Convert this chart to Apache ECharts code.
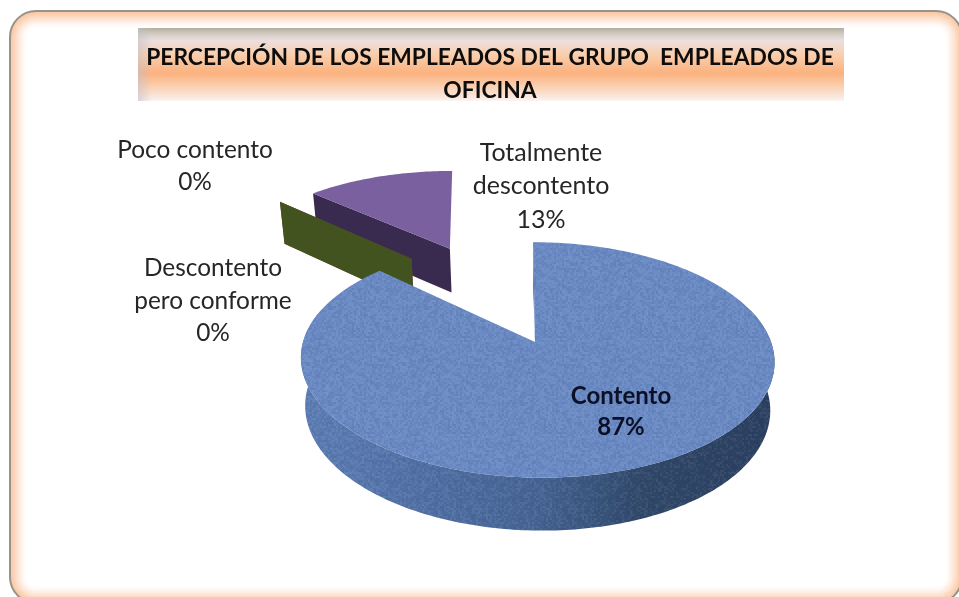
<!DOCTYPE html>
<html><head><meta charset="utf-8">
<style>html,body{margin:0;padding:0;background:#fff}#c{width:959px;height:597px}</style>
<script src="https://cdn.jsdelivr.net/npm/echarts@6/dist/echarts.min.js"></script>
</head><body><div id="c"></div>
<script>
// ---- data ----
const categories = ['Contento', 'Descontento\npero conforme', 'Poco contento', 'Totalmente\ndescontento'];
const values = [87, 0, 0, 13];
const titleText = 'PERCEPCIÓN DE LOS EMPLEADOS DEL GRUPO  EMPLEADOS DE\nOFICINA';
// ---- style ----
const topColors = ['#6a8ac4', '#43531f', '#7f3a36', '#7b60a0'];
const wallColors = ['#2c4164', '#43531f', '#7f3a36', '#392a50'];
const explodeSize = [0, 1.006, 1.006, 1.02];
const explodeAngle = [0, -36, -36, -25];
const apexNudge = [-2, 1, 1, 5];
const labelX = [621, 213, 195, 541];
const labelY = [412, 301, 166, 186];
const labelFont = ['bold 24px Lato', '24.4px Lato', '24.4px Lato', '25px Lato'];
const labelLine = [31, 32.5, 32, 33.5];
const labelColor = ['#0b1026', '#262626', '#262626', '#262626'];
// ---- 3D projection of the pie ----
const ax = 537, ay = 342, R = 234, kR = 115, persp = 0.1525, shear = 0.04;
function project(u, v, bottom) {
  const s = 1 / (1 - persp * v);
  let x = ax + R * u * s, y = ay + kR * v * s;
  x += (y - ay) * shear;
  if (bottom) { x = ax + (x - ax) * 0.982; y += 43 + 30 * (s - 0.85); }
  return [x, y];
}
const rad = d => d * Math.PI / 180;
const total = values.reduce((a, b) => a + b, 0);
const starts = []; values.reduce((acc, v, i) => { starts[i] = acc; return acc + v; }, 0);

// woven surface texture
const tex = document.createElement('canvas'); tex.width = tex.height = 96;
(function () {
  const g = tex.getContext('2d'); let h = 12345;
  for (let y = 0; y < 96; y += 2) for (let x = 0; x < 96; x += 2) {
    h = (h * 1103515245 + 12345) & 0x7fffffff;
    const n = ((h >> 12) % 100) / 100;
    g.fillStyle = n > 0.5 ? 'rgba(255,255,255,' + ((n - 0.5) * 0.14).toFixed(3) + ')' : 'rgba(20,30,70,' + ((0.5 - n) * 0.18).toFixed(3) + ')';
    g.fillRect(x, y, 2, 2);
  }
})();

function renderSlice(params, api) {
  const i = api.value(1), val = api.value(0);
  const a0 = starts[i] / total * 360, a1 = (starts[i] + val) / total * 360;
  const eu = explodeSize[i] * Math.sin(rad(explodeAngle[i]));
  const ev = -explodeSize[i] * Math.cos(rad(explodeAngle[i]));
  const pt = (deg, b) => project(Math.sin(rad(deg)) + eu, -Math.cos(rad(deg)) + ev, b);
  const apexTop = project(eu, ev, false); apexTop[0] += apexNudge[i];
  const apexBot = project(eu, ev, true); if (i !== 0) apexBot[0] += apexNudge[i];
  const rim = [];
  const n = Math.max(1, Math.round(a1 - a0));
  for (let k = 0; k <= n; k++) rim.push(a0 + (a1 - a0) * k / n);
  const children = [];
  if (i === 0) {
    // dark sliver of the radial wall next to the apex
    children.push({ type: 'polygon', shape: { points: [pt(a0, false), apexTop, apexBot, pt(a0, true)] }, style: { fill: '#3d5580' } });
    // outer wall, front part only
    const vis = rim.filter(d => -Math.cos(rad(d)) > -0.3);
    const side = vis.map(d => pt(d, false)).concat(vis.slice().reverse().map(d => pt(d, true)));
    const grad = { type: 'linear', x: 0, y: 0, x2: 1, y2: 0, colorStops: [
      { offset: 0, color: '#5e7fb6' }, { offset: 0.2, color: '#5473a8' }, { offset: 0.5, color: '#456494' },
      { offset: 0.72, color: '#304869' }, { offset: 1, color: '#2b3f60' }] };
    children.push({ type: 'polygon', shape: { points: side }, style: { fill: grad } });
    children.push({ type: 'polygon', shape: { points: side }, style: { fill: { image: tex, repeat: 'repeat' } } });
  } else {
    // radial wall on the near side of an exploded slice
    children.push({ type: 'polygon', shape: { points: [apexTop, pt(a0, false), pt(a0, true), apexBot] }, style: { fill: wallColors[i] } });
  }
  if (val > 0) {
    const face = [apexTop].concat(rim.map(d => pt(d, false)));
    children.push({ type: 'polygon', shape: { points: face }, style: { fill: topColors[i] } });
    if (i === 0) children.push({ type: 'polygon', shape: { points: face }, style: { fill: { image: tex, repeat: 'repeat' } } });
  }
  const pct = Math.round(val / total * 100) + '%';
  children.push({ type: 'text', z2: 50, style: {
    text: categories[i] + '\n' + pct, x: labelX[i], y: labelY[i], align: 'center', verticalAlign: 'middle',
    font: labelFont[i], lineHeight: labelLine[i], fill: labelColor[i] } });
  return { type: 'group', children };
}

// frame: outer rule plus soft inner glow
const frameX = 10, frameY = 11, frameW = 952, frameH = 592, frameR = 26;
const frame = [];
for (let k = 16; k >= 1; k--) {
  frame.push({ type: 'rect', silent: true, z: 0,
    shape: { x: frameX + k, y: frameY + k, width: frameW - 2 * k, height: frameH - 2 * k, r: Math.max(frameR - k, 4) },
    style: { fill: 'transparent', stroke: 'rgba(250,178,128,' + (0.7 * Math.pow(1 - k / 17, 1.5)).toFixed(3) + ')', lineWidth: 1.4 } });
}
frame.push({ type: 'rect', silent: true, z: 0,
  shape: { x: frameX, y: frameY, width: frameW, height: frameH, r: frameR },
  style: { fill: 'transparent', stroke: '#96938a', lineWidth: 2 } });
// title band
frame.push({ type: 'rect', silent: true, z: 0,
  shape: { x: 138, y: 28, width: 706, height: 73 },
  style: { fill: { type: 'linear', x: 0, y: 0, x2: 0, y2: 1, colorStops: [
    { offset: 0, color: '#b3ae9e' }, { offset: 0.08, color: '#d3cbc2' }, { offset: 0.17, color: '#ebdfdf' },
    { offset: 0.36, color: '#f9cfae' }, { offset: 0.62, color: '#fbb17e' }, { offset: 0.8, color: '#fbd0b0' },
    { offset: 0.97, color: '#f9ece6' }, { offset: 1, color: '#fbf6f3' }] } } });
frame.push({ type: 'rect', silent: true, z: 0,
  shape: { x: 138, y: 28, width: 14, height: 73 },
  style: { fill: { type: 'linear', x: 0, y: 0, x2: 1, y2: 0, colorStops: [
    { offset: 0, color: 'rgba(196,190,200,0.55)' }, { offset: 1, color: 'rgba(196,190,200,0)' }] } } });

const chart = echarts.init(document.getElementById('c'), null, { renderer: 'canvas' });
chart.setOption({
  animation: false,
  backgroundColor: '#ffffff',
  title: { text: titleText, left: 485, top: 36, textAlign: 'center',
    textStyle: { fontFamily: 'Lato', fontWeight: 'bold', fontSize: 22.8, lineHeight: 33, color: '#0d0d0d' } },
  graphic: { elements: frame },
  series: [{
    type: 'custom', coordinateSystem: 'none', renderItem: renderSlice, silent: true, z: 5,
    encode: { value: 0 },
    data: values.map((v, i) => [v, i]).reverse()
  }]
});
</script></body></html>
